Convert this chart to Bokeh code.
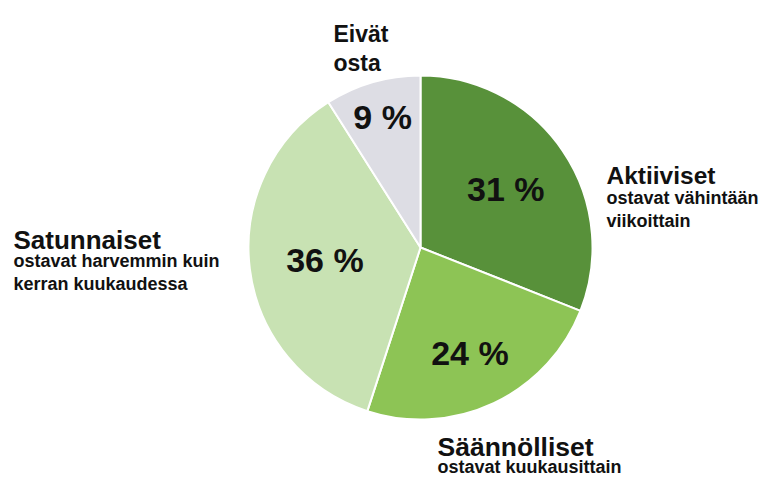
import numpy as np
from bokeh.plotting import figure
from bokeh.models import Range1d, ColumnDataSource, Label
from bokeh.embed import file_html
from bokeh.resources import INLINE
from bokeh.core.properties import value

# ---- data ----
segments = ["Aktiiviset", "Säännölliset", "Satunnaiset", "Eivät osta"]
shares = [31, 24, 36, 9]
pct_labels = ["31 %", "24 %", "36 %", "9 %"]
colors = ["#58913a", "#8dc455", "#c8e2b3", "#dddde4"]
descriptions = [
    ["ostavat vähintään", "viikoittain"],
    ["ostavat kuukausittain"],
    ["ostavat harvemmin kuin", "kerran kuukaudessa"],
    [],
]

# ---- layout helpers (page px -> data, y flipped) ----
W, H = 764, 478
def Y(img_y):
    return H - img_y

cx, cy, R = 420, Y(247), 172
label_r = [0.60, 0.675, 0.56, 0.79]

frac = np.array(shares, dtype=float) / sum(shares)
cum = np.concatenate([[0], np.cumsum(frac)])
start = np.pi / 2 - 2 * np.pi * cum[:-1]
end = np.pi / 2 - 2 * np.pi * cum[1:]
mid = (start + end) / 2

src = ColumnDataSource(dict(start=start, end=end, color=colors, seg=segments))

p = figure(width=W, height=H, x_range=Range1d(0, W), y_range=Range1d(0, H),
           output_backend="svg", toolbar_location=None, min_border=0,
           x_axis_type=None, y_axis_type=None, outline_line_color=None,
           background_fill_color="white", border_fill_color="white")
p.grid.visible = False

p.wedge(x=cx, y=cy, radius=R, start_angle="start", end_angle="end", direction="clock",
        fill_color="color", line_color="white", line_width=2, source=src)

lx = cx + np.array(label_r) * R * np.cos(mid)
ly = cy + np.array(label_r) * R * np.sin(mid)
p.text(x=lx, y=ly, text=pct_labels, text_align="center", text_baseline="middle",
       text_font=value("Liberation Sans"), text_font_style="bold",
       text_font_size="34px", text_color="#111111")

FONT = "Liberation Sans"

def head(txt, x, img_base, size):
    p.add_layout(Label(x=x, y=Y(img_base), text=txt, text_font=FONT, text_font_style="bold",
                       text_font_size=size, text_color="#111111", text_baseline="alphabetic",
                       text_align="left"))

def sub(lines, x, img_base, step=22.5):
    for i, t in enumerate(lines):
        p.add_layout(Label(x=x, y=Y(img_base + i * step), text=t, text_font=FONT,
                           text_font_style="bold", text_font_size="18px",
                           text_color="#111111", text_baseline="alphabetic",
                           text_align="left"))

# Aktiiviset
head(segments[0], 606, 175, "24.5px")
sub(descriptions[0], 606, 197.5)
# Säännölliset
head(segments[1], 437, 446, "26.5px")
sub(descriptions[1], 437, 466)
# Satunnaiset
head(segments[2], 13, 239, "26px")
sub(descriptions[2], 13, 260.5)
# Eivät osta
head("Eivät", 333, 33, "23px")
head("osta", 333, 62, "23px")

open("out.html", "w").write(file_html(p, INLINE))
